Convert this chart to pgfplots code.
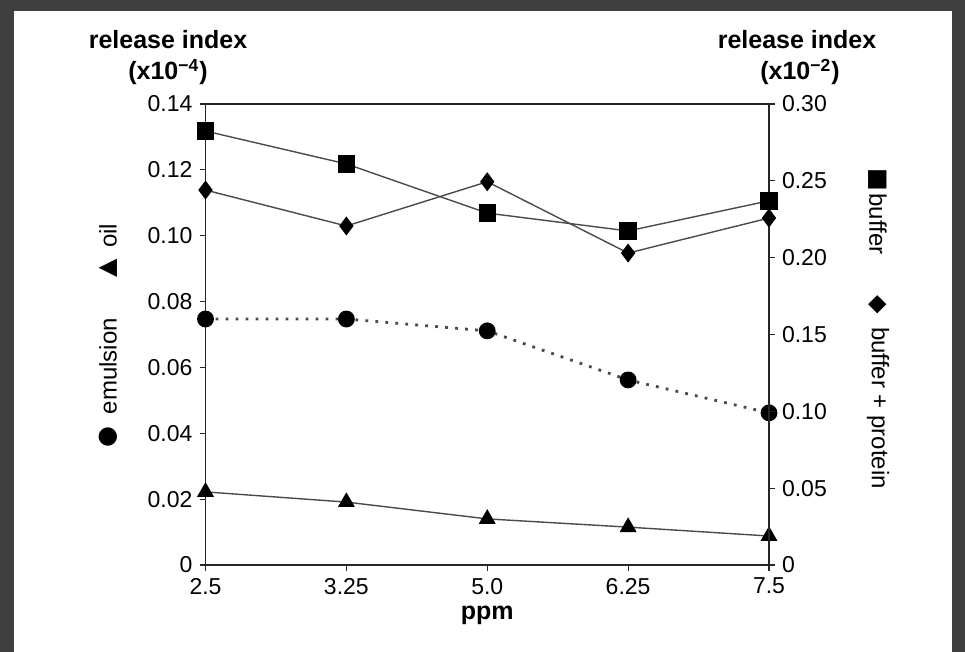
\documentclass[border=0pt]{standalone}
\usepackage{pgfplots}
\usepackage{pgfplotstable}
\pgfplotsset{compat=1.18}
\usepackage{fontspec}
\setmainfont{Liberation Sans}
\newfontfamily\symfont{DejaVu Sans}

\definecolor{frame}{HTML}{3F3F3F}
\definecolor{linegray}{HTML}{4A4A4A}

% left axis (x10^-4): emulsion, oil
\pgfplotstableread{
x emulsion oil
0 0.0747 0.0222
1 0.0747 0.0191
2 0.0711 0.0140
3 0.0562 0.0115
4 0.0462 0.0088
}\lefttab

% right axis (x10^-2): buffer, buffer + protein
\pgfplotstableread{
x buffer protein
0 0.2824 0.2440
1 0.2610 0.2206
2 0.2290 0.2494
3 0.2174 0.2030
4 0.2370 0.2258
}\righttab

\pgfplotsset{
  common/.style={
    scale only axis,
    width=281.75pt, height=230.5pt,
    at={(102.75pt,43.5pt)}, anchor=south west,
    xmin=0, xmax=4,
    ymin=0,
    clip=false,
    axis line style={line width=0.75pt, black!85},
    tick style={line width=0.6pt, black!85},
    major tick length=3pt,
    tick align=outside,
    scaled ticks=false,
    tick label style={font=\fontsize{11.5}{13}\selectfont},
    /pgf/number format/assume math mode=true,
  },
}

\begin{document}
\begin{tikzpicture}[x=1pt,y=1pt]
  % scanned page background
  \fill[frame] (0,0) rectangle (482.5,326);
  \fill[white] (7,0) rectangle (476,320.5);

  \begin{axis}[common,
    ymax=0.14,
    xtick={0,1,2,3,4},
    xticklabels={2.5,3.25,5.0,6.25,7.5},
    xtick pos=bottom,
    ytick={0,0.02,0.04,0.06,0.08,0.10,0.12,0.14},
    yticklabels={0,0.02,0.04,0.06,0.08,0.10,0.12,0.14},
    ytick pos=left,
    xlabel={\fontsize{12.5}{14}\selectfont\bfseries ppm},
    xlabel style={yshift=1pt},
  ]
    \addplot[linegray, line width=1.4pt, dash pattern=on 1.4pt off 3.6pt,
      mark=*, mark size=3.5pt, mark options={solid, fill=black, draw=black}]
      table[x=x, y=emulsion] {\lefttab};
    \addplot[linegray, line width=0.7pt,
      mark=triangle*, mark size=4.2pt, mark options={fill=black, draw=black}]
      table[x=x, y=oil] {\lefttab};
  \end{axis}

  \begin{axis}[common,
    ymax=0.30,
    axis x line=none,
    axis y line*=right,
    ytick={0,0.05,0.10,0.15,0.20,0.25,0.30},
    yticklabels={0,0.05,0.10,0.15,0.20,0.25,0.30},
  ]
    \addplot[linegray, line width=0.7pt,
      mark=square*, mark size=4pt, mark options={fill=black, draw=black}]
      table[x=x, y=buffer] {\righttab};
    \addplot[linegray, line width=0.7pt,
      mark=diamond*, mark size=4.2pt, mark options={fill=black, draw=black}]
      table[x=x, y=protein] {\righttab};
  \end{axis}

  % axis titles
  \begin{scope}[font=\fontsize{12.5}{14}\selectfont\bfseries]
    \node at (84,306) {release index};
    \node at (84,290) {(x10\textsuperscript{\textminus 4})};
    \node at (398.5,306) {release index};
    \node at (400,290) {(x10\textsuperscript{\textminus 2})};
  \end{scope}

  % rotated series keys
  \begin{scope}[font=\fontsize{12}{14}\selectfont]
    \node[rotate=90] at (54,107.5) {\symfont ●};
    \node[rotate=90] at (54,143) {emulsion};
    \node[rotate=90] at (54,192) {\symfont ▲};
    \node[rotate=90] at (54,208) {oil};
    \node[rotate=-90] at (439,236) {\symfont ■};
    \node[rotate=-90] at (439,214) {buffer};
    \node[rotate=-90] at (439,173.5) {\symfont ◆};
    \node[rotate=-90] at (439,122) {buffer + protein};
  \end{scope}
\end{tikzpicture}
\end{document}
